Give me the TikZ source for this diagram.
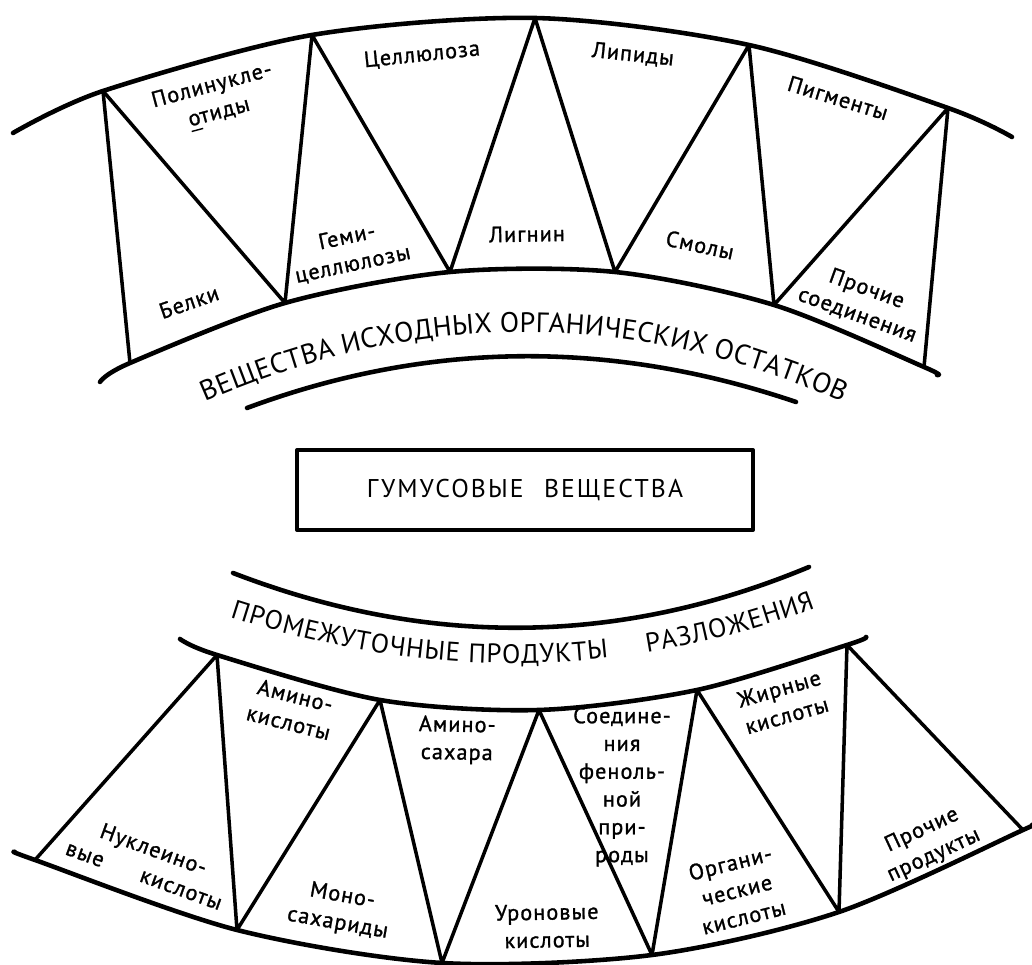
\documentclass[tikz,border=0pt]{standalone}
\usepackage{fontspec}
\setmainfont{PT Sans}
\newfontfamily\lblfont[LetterSpace=5,FakeBold=1.2]{PT Sans}
\newfontfamily\boxfont[LetterSpace=8]{PT Sans}
\newcommand\ttlfont{\fontsize{8}{9}\selectfont}
\newcommand\ttlfontb{\fontsize{7.6}{9}\selectfont}
\usetikzlibrary{decorations.text}

\begin{document}
\begin{tikzpicture}[x=0.01cm,y=-0.01cm,line cap=round,line join=round,
    band/.style={line width=1.3pt},
    zig/.style={line width=1pt},
    lbl node/.style={align=center,inner sep=0pt,font=\lblfont\fontsize{6.3}{7.9}\selectfont},
    box node/.style={draw,line width=1pt,minimum width=4.56cm,minimum height=0.8cm,font=\boxfont\fontsize{7.3}{8}\selectfont}]
    \useasboundingbox (0,0) rectangle (1032,965);

    \coordinate (a0) at (13,133);
    \coordinate (a1) at (103,91);
    \coordinate (a2) at (312,35);
    \coordinate (a3) at (535,18);
    \coordinate (a4) at (749,45);
    \coordinate (a5) at (948,108);
    \coordinate (a6) at (1012,137);

    \coordinate (b0) at (100,382);
    \coordinate (b1) at (130,363);
    \coordinate (b2) at (285,303);
    \coordinate (b3) at (450,272);
    \coordinate (b4) at (615,272);
    \coordinate (b5) at (774,305);
    \coordinate (b6) at (924,367);
    \coordinate (b7) at (937,375);

    \coordinate (c0) at (180,639);
    \coordinate (c1) at (217,655);
    \coordinate (c2) at (380,700);
    \coordinate (c3) at (539,710);
    \coordinate (c4) at (697,690);
    \coordinate (c5) at (847,645);
    \coordinate (c6) at (866,637);

    \coordinate (d0) at (15,852);
    \coordinate (d1) at (35,860);
    \coordinate (d2) at (237,930);
    \coordinate (d3) at (442,963);
    \coordinate (d4) at (652,955);
    \coordinate (d5) at (839,912);
    \coordinate (d6) at (1023,830);
    \coordinate (d7) at (1032,825);

    \coordinate (g0) at (247,408);
    \coordinate (g1) at (796,402);
    \coordinate (h0) at (233,573);
    \coordinate (h1) at (809,567);
    \coordinate (t0) at (205,402);
    \coordinate (t1) at (842,402);
    \coordinate (s0) at (230,617);
    \coordinate (s1) at (815,608);

    \draw[band] plot[smooth] coordinates {(a0) (a1) (a2) (a3) (a4) (a5) (a6)};
    \draw[band] plot[smooth] coordinates {(b0) (b1) (b2) (b3) (b4) (b5) (b6) (b7)};
    \draw[band] plot[smooth] coordinates {(c0) (c1) (c2) (c3) (c4) (c5) (c6)};
    \draw[band] plot[smooth] coordinates {(d0) (d1) (d2) (d3) (d4) (d5) (d6) (d7)};
    \draw[band] (g0) .. controls (430,340) and (613,340) .. (g1);
    \draw[band] (h0) .. controls (425,647) and (617,647) .. (h1);

    \draw[zig] (a1) -- (b1);
    \draw[zig] (a1) -- (b2) -- (a2) -- (b3) -- (a3) -- (b4) -- (a4) -- (b5) -- (a5) -- (b6);
    \draw[zig] (d1) -- (c1) -- (d2) -- (c2) -- (d3) -- (c3) -- (d4) -- (c4) -- (d5) -- (c5) -- (d6);

    \path[decorate,decoration={text along path,text align={fit to path},
        text={|\ttlfont|ВЕЩЕСТВА ИСХОДНЫХ ОРГАНИЧЕСКИХ ОСТАТКОВ}}]
        (t0) .. controls (417,309) and (630,309) .. (t1);
    \path[decorate,decoration={text along path,text align={fit to path},
        text={|\ttlfontb|ПРОМЕЖУТОЧНЫЕ ПРОДУКТЫ {\kern1.1em}РАЗЛОЖЕНИЯ}}]
        (s0) .. controls (425,680) and (620,680) .. (s1);

    \node[box node] at (525,490) (gumus) {ГУМУСОВЫЕ\hspace{0.8em}ВЕЩЕСТВА};

    \node[lbl node,rotate=15] at (216,101) (polinukl) {Полинукле-\\\underline{о}тиды};
    \node[lbl node,rotate=19] at (189,302) (belki) {Белки};
    \node[lbl node,rotate=6] at (422,55) (cellul) {Целлюлоза};
    \node[lbl node,rotate=12] at (350,251) (gemi) {Геми-\\целлюлозы};
    \node[lbl node,rotate=1] at (527,234) (lignin) {Лигнин};
    \node[lbl node,rotate=-6] at (633,55) (lipid) {Липиды};
    \node[lbl node,rotate=-12] at (700,245) (smoly) {Смолы};
    \node[lbl node,rotate=-17] at (838,98) (pigm) {Пигменты};
    \node[lbl node,rotate=-20] at (862,302) (prochsoed) {Прочие\\соединения};

    \node[lbl node,rotate=-20] at (149,862) (nuklein) {Нуклеино-\\вые\hspace{1.8em}кислоты};
    \node[lbl node,rotate=-14] at (292,709) (aminok) {Амино-\\кислоты};
    \node[lbl node,rotate=-10] at (340,910) (monos) {Моно-\\сахариды};
    \node[lbl node,rotate=-1] at (457,740) (aminos) {Амино-\\сахара};
    \node[lbl node,rotate=1] at (547,926) (uron) {Уроновые\\кислоты};
    \node[lbl node] at (622,787) (fenol) {Соедине-\\ния\\феноль-\\ной\\при-\\роды};
    \node[lbl node,rotate=14] at (737,890) (organ) {Органи-\\ческие\\кислоты};
    \node[lbl node,rotate=16] at (783,702) (zhirn) {Жирные\\кислоты};
    \node[lbl node,rotate=25] at (928,843) (prochprod) {Прочие\\продукты};
\end{tikzpicture}
\end{document}
